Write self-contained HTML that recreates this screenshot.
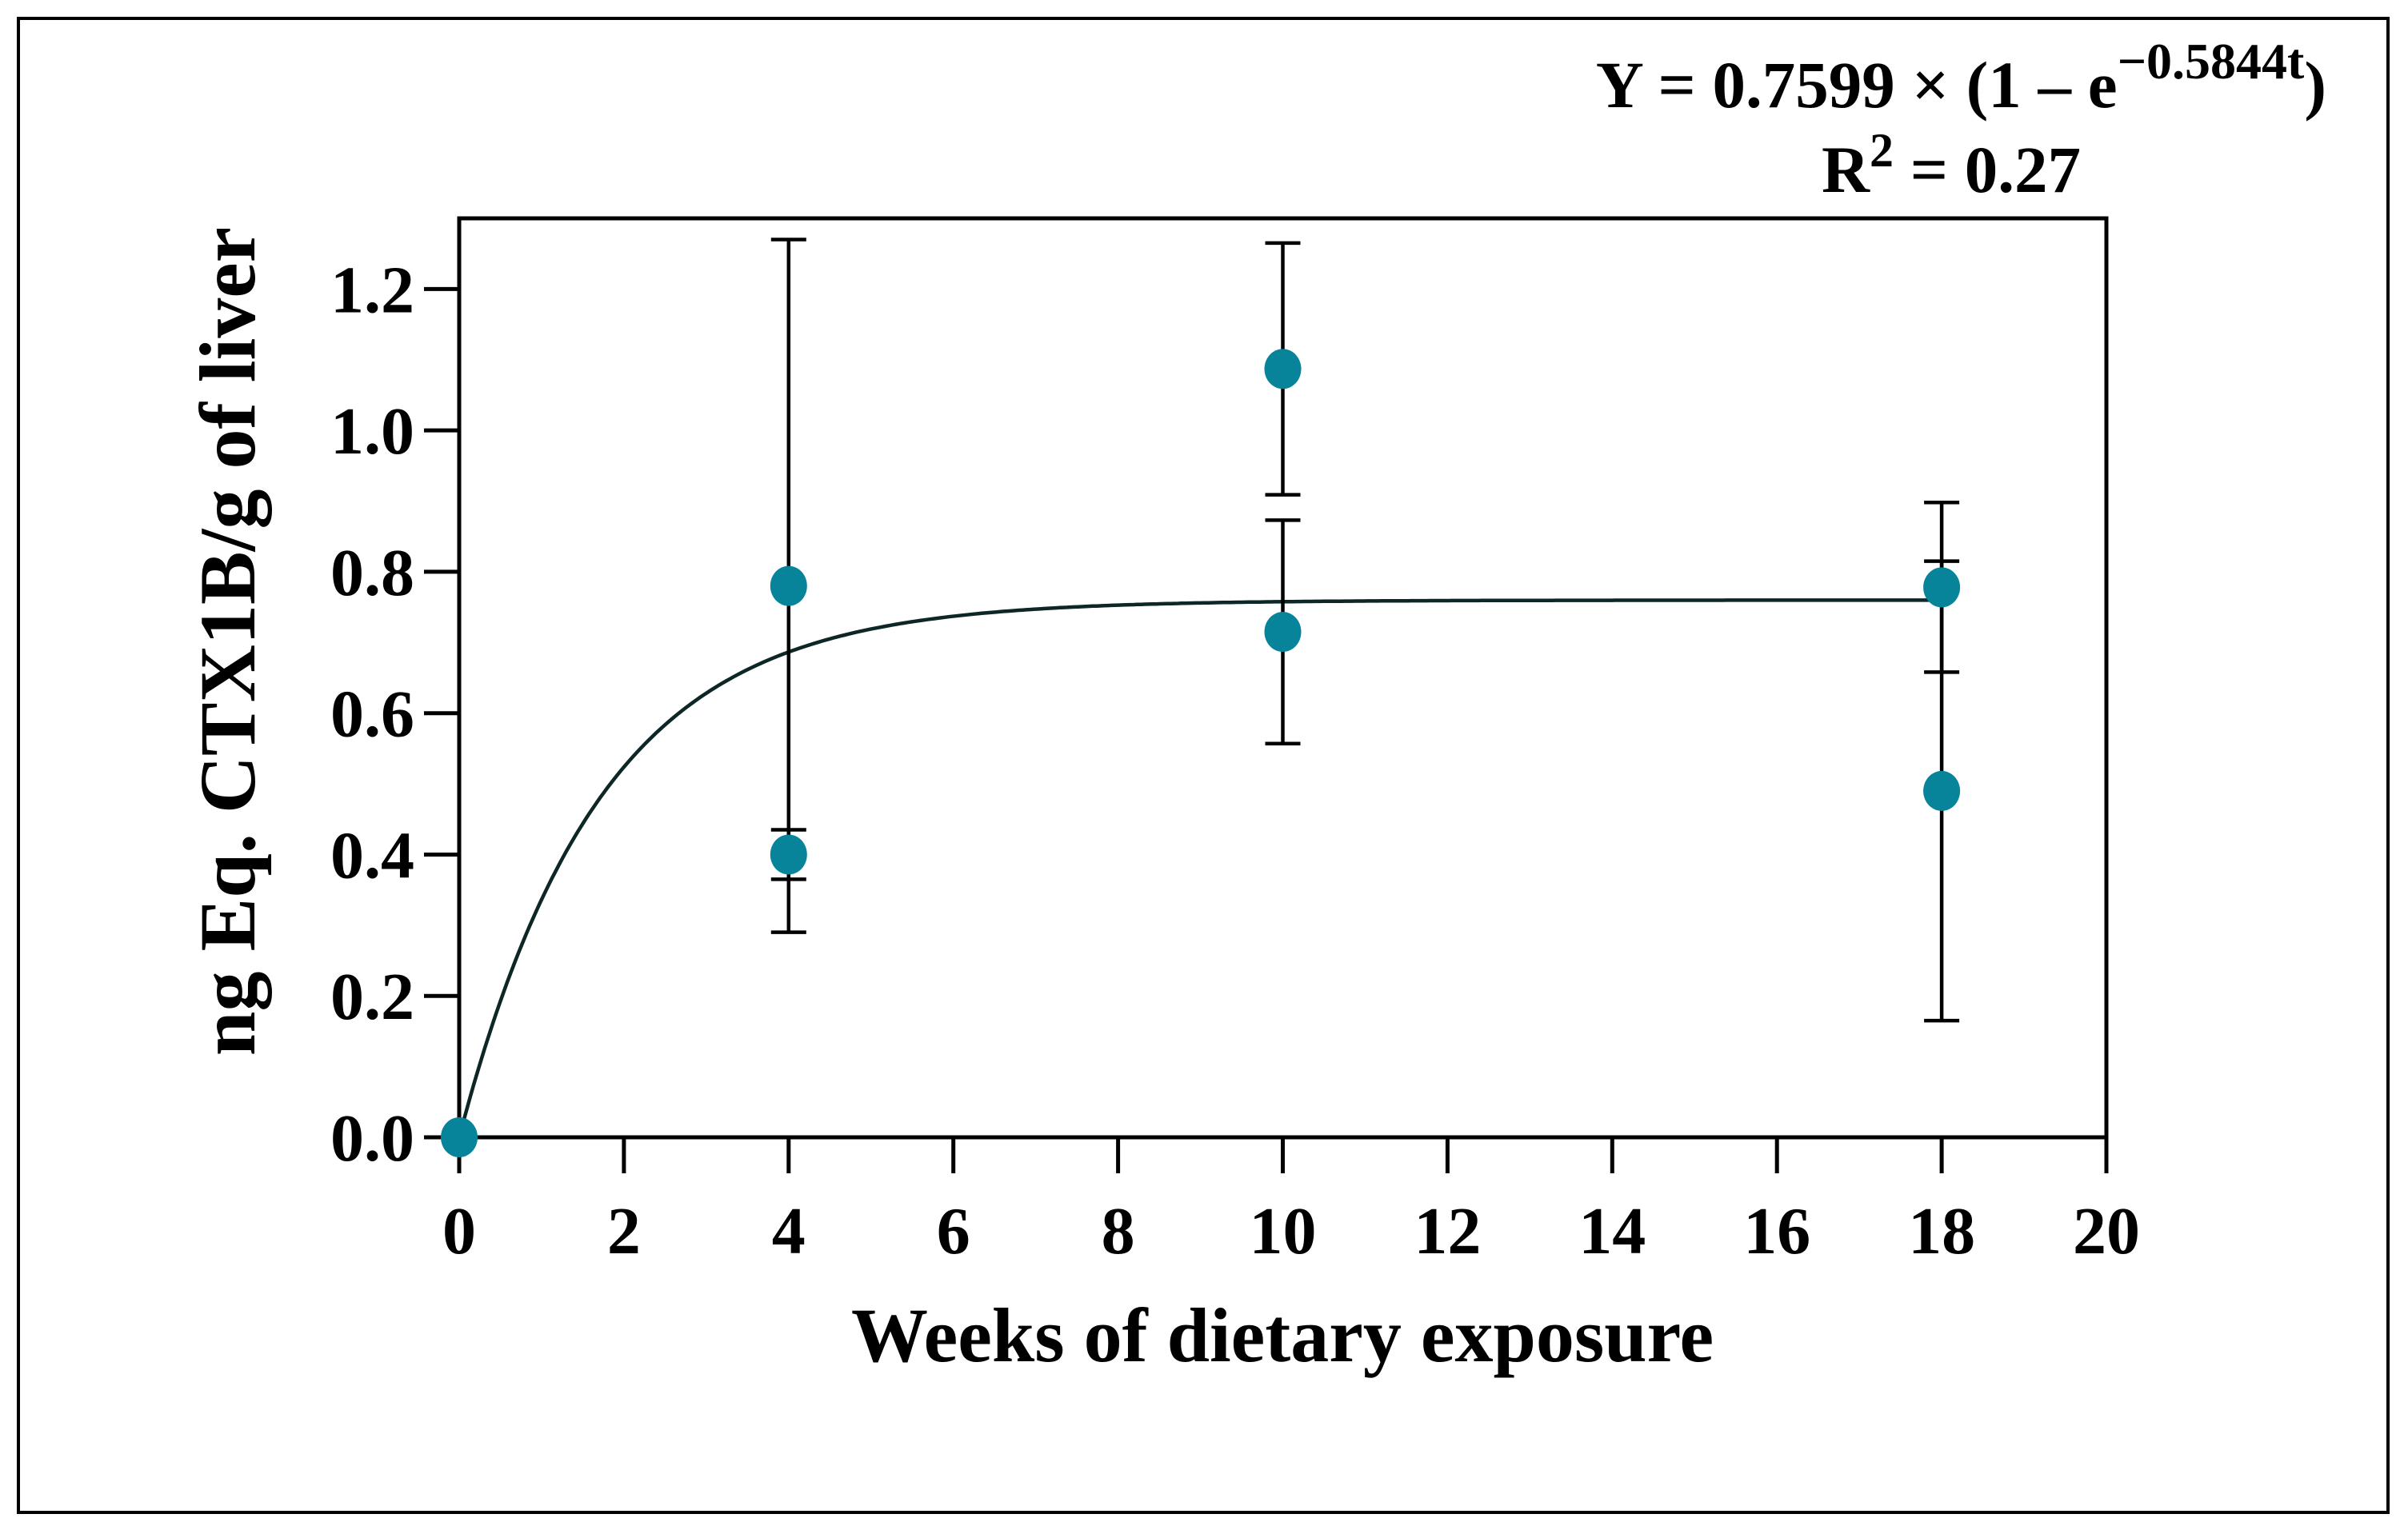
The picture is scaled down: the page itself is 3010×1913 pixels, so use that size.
<!DOCTYPE html>
<html><head><meta charset="utf-8"><style>
html,body{margin:0;padding:0;background:#fff}
svg{display:block}
text{font-family:"Liberation Serif",serif;font-weight:bold;fill:#000}
</style></head><body>
<svg id="chart" width="3010" height="1913" viewBox="0 0 3010 1913">
<rect x="23" y="23" width="2962" height="1868" fill="none" stroke="#000" stroke-width="4"/>
<g id="plot"></g>
<text x="2908" y="134" font-size="83" text-anchor="end">Y = 0.7599 × (1 – e<tspan dy="-36" font-size="64">−0.5844t</tspan><tspan dy="36">)</tspan></text>
<text x="2601" y="240" font-size="83" text-anchor="end">R<tspan dy="-32" font-size="60">2</tspan><tspan dy="32"> = 0.27</tspan></text>
<text x="1603" y="1702" font-size="96" text-anchor="middle">Weeks of dietary exposure</text>
<text transform="translate(318,802) rotate(-90)" font-size="100" text-anchor="middle">ng Eq. CTX1B/g of liver</text>
</svg>
<script>
const xTicks=[0,2,4,6,8,10,12,14,16,18,20];
const yTicks=[0,0.2,0.4,0.6,0.8,1.0,1.2];
const yTickLabels=["0.0","0.2","0.4","0.6","0.8","1.0","1.2"];
const pointX=[0,4,4,10,10,18,18];
const pointY=[0,0.78,0.40,1.087,0.715,0.778,0.49];
const pointErr=[0,0.49,0.035,0.178,0.158,0.12,0.325];
const fitA=0.7599, fitK=0.5844;
const X0=574,X1=2633,Y0=1422,Y1=273,XMAX=20,YMAX=1.3;
const sx=v=>X0+(X1-X0)*v/XMAX;
const sy=v=>Y0-(Y0-Y1)*v/YMAX;
const NS="http://www.w3.org/2000/svg";
const g=document.getElementById('plot');
function mk(tag,attrs){const e=document.createElementNS(NS,tag);for(const k in attrs)e.setAttribute(k,attrs[k]);g.appendChild(e);return e;}
let e=mk('rect',{x:X0,y:Y1,width:X1-X0,height:Y0-Y1,fill:'none',stroke:'#000','stroke-width':5});


xTicks.forEach(t=>{
 let l=mk('line',{x1:sx(t),x2:sx(t),y1:Y0,y2:Y0+45,stroke:'#000','stroke-width':5});
 
 
 let tx=mk('text',{x:sx(t),y:1567,'font-size':84,'text-anchor':'middle'});tx.textContent=t;
 
 
});
yTicks.forEach((t,i)=>{
 let l=mk('line',{x1:X0-44,x2:X0,y1:sy(t),y2:sy(t),stroke:'#000','stroke-width':5});
 
 
 let tx=mk('text',{x:518,y:sy(t)+29,'font-size':84,'text-anchor':'end'});tx.textContent=yTickLabels[i];
 
 
});
let d='';for(let i=0;i<=400;i++){const t=XMAX*0.9*i/400;d+=(i?'L':'M')+sx(t).toFixed(1)+','+sy(fitA*(1-Math.exp(-fitK*t))).toFixed(1);}
let c=mk('path',{d:d,fill:'none',stroke:'#0d2626','stroke-width':4.5});


pointX.forEach((x,i)=>{
 const er=pointErr[i];
 if(er>0){
  const hi=sy(pointY[i]+er),lo=sy(pointY[i]-er);
  let v=mk('path',{d:`M${sx(x)},${hi}V${lo}M${sx(x)-22},${hi}H${sx(x)+22}M${sx(x)-22},${lo}H${sx(x)+22}`,stroke:'#000','stroke-width':4.5,fill:'none'});
  
  
 }
});
pointX.forEach((x,i)=>{
 let p=mk('ellipse',{cx:sx(x),cy:sy(pointY[i]),rx:23,ry:25,fill:'#07849a'});
 
 
});
</script>
</body></html>
